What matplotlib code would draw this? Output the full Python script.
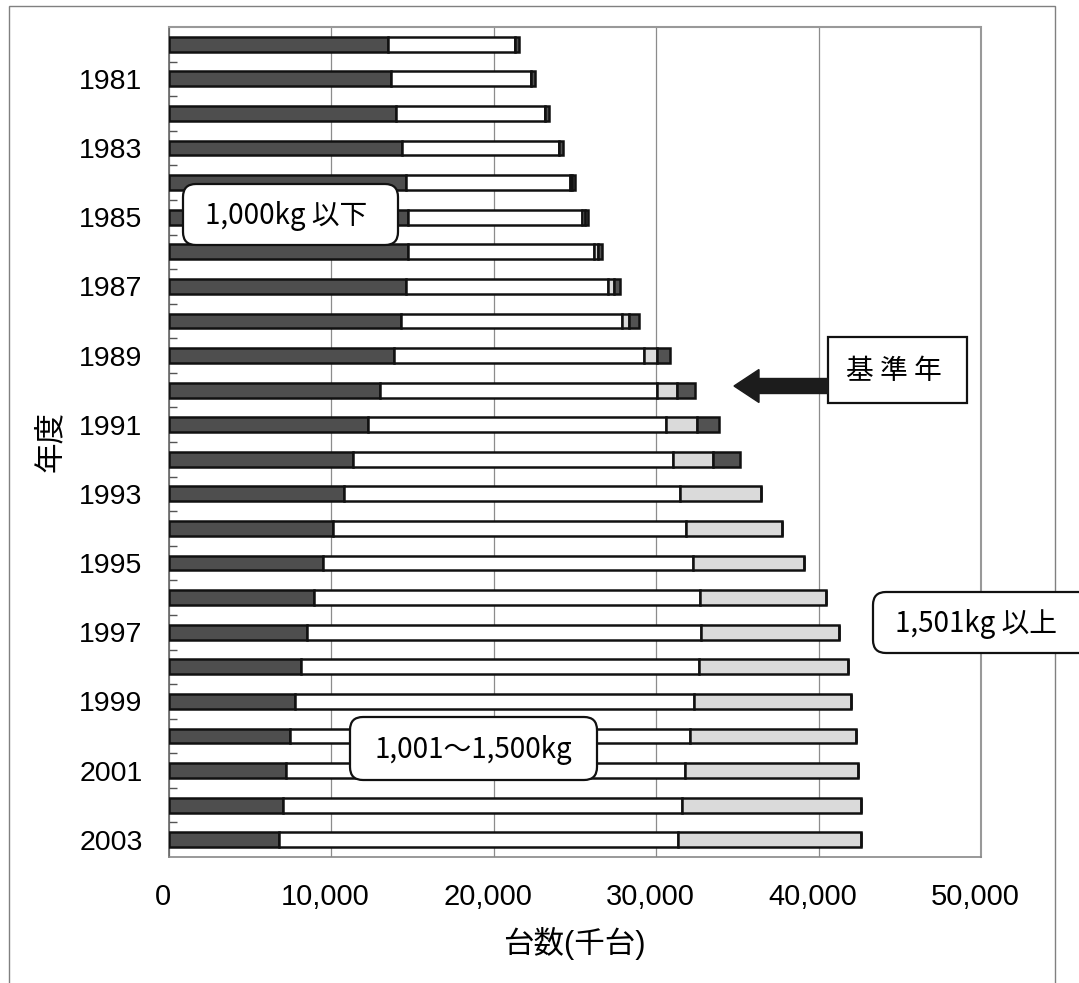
import numpy as np
import matplotlib
matplotlib.use('Agg')
import matplotlib.pyplot as plt
from matplotlib.patches import FancyBboxPatch, Rectangle, FancyArrow
from matplotlib.transforms import ScaledTranslation

plt.rcParams['font.family'] = ['Liberation Sans', 'Noto Sans CJK JP']

# ---------------- data (thousand vehicles) ----------------
years = list(range(1980, 2004))
under_1000kg = [13500, 13700, 13960, 14330, 14570, 14690, 14740, 14610, 14290, 13860,
                13000, 12230, 11360, 10790, 10090, 9490, 8900, 8480, 8110, 7780,
                7460, 7210, 7040, 6790]
kg_1001_1500 = [7800, 8590, 9180, 9670, 10120, 10720, 11420, 12440, 13580, 15410,
                17070, 18400, 19650, 20650, 21770, 22760, 23780, 24250, 24510, 24560,
                24600, 24540, 24570, 24560]
over_1501kg = [0, 0, 0, 0, 140, 200, 230, 350, 470, 800,
               1240, 1900, 2480, 5040, 5890, 6850, 7800, 8540, 9160, 9660,
               10250, 10700, 11010, 11250]
other_class = [270, 240, 230, 290, 190, 210, 280, 400, 580, 800,
               1060, 1330, 1690, 0, 0, 0, 0, 0, 0, 0,
               0, 0, 0, 0]
x_ticks = [0, 10000, 20000, 30000, 40000, 50000]
x_tick_labels = ['0', '10,000', '20,000', '30,000', '40,000', '50,000']
year_labels = [str(y) if y % 2 == 1 else '' for y in years]

# ---------------- layout ----------------
W, H = 1079, 983
fig = plt.figure(figsize=(W / 100, H / 100), dpi=100)
L, T, R, B = 169, 27, 981, 857
ax = fig.add_axes([L / W, 1 - B / H, (R - L) / W, (B - T) / H])

pos = np.arange(len(years))
segments = [under_1000kg, kg_1001_1500, over_1501kg, other_class]
colors = ['#4e4e4e', '#ffffff', '#dadada', '#525252']
left = np.zeros(len(years))
for vals, c in zip(segments, colors):
    vals = np.asarray(vals, dtype=float)
    ax.barh(pos, vals, left=left, height=0.43, color=c, edgecolor='#111111',
            linewidth=1.8, zorder=3)
    left += vals

ax.set_xlim(0, 50000)
ax.set_ylim(len(years) - 0.5, -0.5)
ax.set_xticks(x_ticks)
ax.set_xticklabels(x_tick_labels, fontsize=21)
ax.tick_params(axis='x', length=0, pad=18.5)
shift = ScaledTranslation(-6 / 100, 0, fig.dpi_scale_trans)
for lab in ax.get_xticklabels():
    lab.set_transform(lab.get_transform() + shift)
ax.grid(axis='x', color='#8c8c8c', linewidth=0.9, zorder=0)
ax.set_axisbelow(True)

ax.set_yticks(pos)
ax.set_yticklabels(year_labels, fontsize=20.5)
ax.tick_params(axis='y', which='major', length=0, pad=19)
ax.set_yticks(np.arange(0.5, len(years) - 1, 1), minor=True)
ax.tick_params(axis='y', which='minor', direction='in', length=6, width=1, color='#555555')

ax.spines['top'].set_color('#999999')
ax.spines['top'].set_linestyle((0, (1, 1)))
ax.spines['top'].set_linewidth(1.5)
ax.spines['right'].set_color('#999999')
ax.spines['right'].set_linewidth(1.5)
ax.spines['left'].set_color('#666666')
ax.spines['left'].set_linewidth(1.2)
ax.spines['bottom'].set_color('#888888')
ax.spines['bottom'].set_linewidth(1.2)

# ---------------- axis titles ----------------
def fx(px):
    return px / W

def fy(py):
    return 1 - py / H

fig.text(fx(574), fy(944), '台数(千台)', ha='center', va='center', fontsize=22)
fig.text(fx(51), fy(441), '年度', rotation=90, ha='center', va='center', fontsize=22)

# ---------------- decorations in pixel space ----------------
tr = fig.dpi_scale_trans

def px_box(x0, y0, x1, y1):
    return x0 / 100, (H - y1) / 100, (x1 - x0) / 100, (y1 - y0) / 100

# outer frame
x, y, w, h = px_box(9, 6, 1055, 1010)
fig.add_artist(Rectangle((x, y), w, h, transform=tr, fill=False, ec='#808080', lw=1.0, zorder=1))

def rounded_label(x0, y0, x1, y1, text, cx, cy, size):
    x, y, w, h = px_box(x0, y0, x1, y1)
    fig.add_artist(FancyBboxPatch((x, y), w, h, boxstyle='round,pad=0,rounding_size=0.13',
                                  transform=tr, fc='white', ec='#111111', lw=1.6, zorder=10))
    fig.text(fx(cx), fy(cy), text, ha='center', va='center', fontsize=size, zorder=11,
             family=['Noto Sans CJK JP'])

rounded_label(183, 184, 398, 245, '1,000kg 以下', 286, 216, 20)
rounded_label(350, 717, 597, 780, '1,001～1,500kg', 473, 750, 20)
rounded_label(873, 592, 1110, 653, '1,501kg 以上', 976, 624, 20)

# base-year box with arrow
x, y, w, h = px_box(828, 337, 967, 403)
fig.add_artist(Rectangle((x, y), w, h, transform=tr, fc='white', ec='#111111', lw=1.6, zorder=10))
fig.text(fx(894), fy(371), '基 準 年', ha='center', va='center', fontsize=20, zorder=11,
         family=['Noto Sans CJK JP'])
fig.add_artist(FancyArrow(828 / 100, (H - 386) / 100, -(828 - 734) / 100, 0,
                          width=0.15, head_width=0.33, head_length=0.25,
                          length_includes_head=True, transform=tr,
                          fc='#1c1c1c', ec='#1c1c1c', zorder=10))

fig.savefig('out.png', dpi=100)
